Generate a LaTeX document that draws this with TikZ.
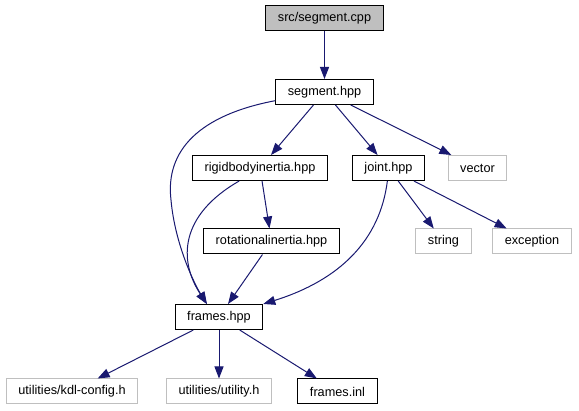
\documentclass[tikz,border=0pt]{standalone}
\usepackage{fontspec}
\setmainfont{Liberation Sans}
\usepackage{xcolor}
\usepackage{tikz}
\usetikzlibrary{arrows.meta}
\definecolor{edgeblue}{HTML}{191970}
\definecolor{boxgrey}{HTML}{BFBFBF}

\begin{document}
\begin{tikzpicture}[
        x=1pt, y=-1pt,
        font=\fontsize{12.7}{15}\selectfont,
        incfile/.style={rectangle, draw=black, line width=1pt, fill=white, align=center, inner xsep=12pt, inner ysep=0pt, minimum height=25pt},
        sysfile/.style={incfile, draw=boxgrey},
        srcfile/.style={incfile, fill=boxgrey},
        arrow/.style={-{Triangle[length=12pt, width=9pt]}, draw=edgeblue, line width=1pt}
    ]
        \useasboundingbox (0,0) rectangle (579,411);

        \node[srcfile] (cpp) at (324.5,18.5) {src/segment.cpp};
        \node[incfile] (segment) at (324.5,92) {segment.hpp};
        \node[incfile] (rigid) at (260,168) {rigidbodyinertia.hpp};
        \node[incfile] (joint) at (388.5,168) {joint.hpp};
        \node[sysfile] (vector) at (477.5,168) {vector};
        \node[incfile] (rotational) at (271.5,241.5) {rotationalinertia.hpp};
        \node[sysfile] (string) at (443.5,241.5) {string};
        \node[sysfile] (exception) at (532,241.5) {exception};
        \node[incfile] (frames) at (219,317) {frames.hpp};
        \node[sysfile] (kdlconfig) at (72,391.5) {utilities/kdl-config.h};
        \node[sysfile] (utility) at (219,391.5) {utilities/utility.h};
        \node[incfile] (inl) at (337.5,391.5) {frames.inl};

        \draw[arrow] (cpp) -- (segment);
        \draw[arrow] (segment) -- (rigid);
        \draw[arrow] (segment) -- (joint);
        \draw[arrow] (segment) -- (vector);
        \draw[arrow] (segment.190) .. controls (200,115) and (165,150) .. (171,200)
            .. controls (175,245) and (195,285) .. (frames.133);
        \draw[arrow] (rigid) -- (rotational);
        \draw[arrow] (rigid.212) .. controls (180,215) and (178,260) .. (frames.133);
        \draw[arrow] (rotational) -- (frames);
        \draw[arrow] (joint.265) .. controls (380,240) and (340,280) .. (frames.north east);
        \draw[arrow] (joint) -- (string);
        \draw[arrow] (joint) -- (exception);
        \draw[arrow] (frames) -- (kdlconfig);
        \draw[arrow] (frames) -- (utility);
        \draw[arrow] (frames) -- (inl);
    \end{tikzpicture}
\end{document}
